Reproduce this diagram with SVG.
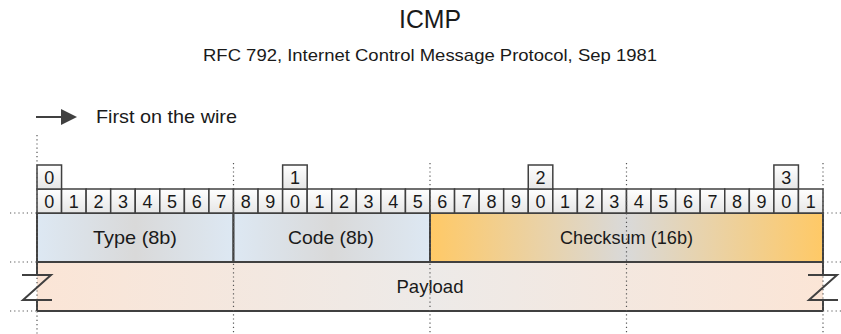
<svg xmlns="http://www.w3.org/2000/svg" width="841" height="334" viewBox="0 0 841 334">
<defs>
<linearGradient id="gCell" x1="0" y1="0" x2="0" y2="1">
<stop offset="0" stop-color="#ffffff"/><stop offset="1" stop-color="#e6e6e6"/>
</linearGradient>
<linearGradient id="gBlue" x1="0" y1="0" x2="1" y2="0">
<stop offset="0" stop-color="#dde8f3"/><stop offset="0.5" stop-color="#d9d9d9"/><stop offset="1" stop-color="#dde8f3"/>
</linearGradient>
<linearGradient id="gOrange" x1="0" y1="0" x2="1" y2="0">
<stop offset="0" stop-color="#ffc966"/><stop offset="0.5" stop-color="#d9d9d9"/><stop offset="1" stop-color="#ffc966"/>
</linearGradient>
<linearGradient id="gPeach" x1="0" y1="0" x2="1" y2="0">
<stop offset="0" stop-color="#fbe5d6"/><stop offset="0.5" stop-color="#edeae8"/><stop offset="1" stop-color="#fbe5d6"/>
</linearGradient>
<marker id="arr" viewBox="0 0 10 10" refX="0" refY="5" markerWidth="20" markerHeight="16" markerUnits="userSpaceOnUse" orient="auto">
<path d="M0,0 L10,5 L0,10 Z" fill="#404040"/>
</marker>
<style>
text{font-family:"Liberation Sans",Arial,sans-serif;fill:#1a1a1a}
.t{font-size:25px;text-anchor:middle}
.st{font-size:17px;text-anchor:middle}
.lg{font-size:18.5px}
.d{font-size:18px;text-anchor:middle}
.f{font-size:18.5px;text-anchor:middle}
.cell{fill:url(#gCell);stroke:#404040;stroke-width:1.5}
.fld{stroke:#404040;stroke-width:2}
.dot{stroke:#555;stroke-width:1.2;stroke-dasharray:1.2 3;fill:none}
.brk{stroke:#404040;stroke-width:2;fill:none}
</style>
</defs>

<g id="title">
<text class="t" x="430" y="28" textLength="62" lengthAdjust="spacingAndGlyphs">ICMP</text>
<text class="st" x="430" y="61" textLength="454" lengthAdjust="spacingAndGlyphs">RFC 792, Internet Control Message Protocol, Sep 1981</text>
</g>

<g id="legend">
<line x1="36" y1="117" x2="61" y2="117" stroke="#404040" stroke-width="2" marker-end="url(#arr)"/>
<text class="lg" x="96" y="123" textLength="141" lengthAdjust="spacingAndGlyphs">First on the wire</text>
</g>

<g id="fields">
<g id="type"><rect class="fld" x="37" y="213" width="196.5" height="49" fill="url(#gBlue)"/>
<text class="f" x="135" y="244" textLength="84" lengthAdjust="spacingAndGlyphs">Type (8b)</text></g>
<g id="code"><rect class="fld" x="233.5" y="213" width="196.5" height="49" fill="url(#gBlue)"/>
<text class="f" x="331" y="244" textLength="86" lengthAdjust="spacingAndGlyphs">Code (8b)</text></g>
<g id="checksum"><rect class="fld" x="430" y="213" width="393" height="49" fill="url(#gOrange)"/>
<text class="f" x="626.5" y="244" textLength="133" lengthAdjust="spacingAndGlyphs">Checksum (16b)</text></g>
<g id="payload"><rect x="37" y="262" width="786" height="49" fill="url(#gPeach)"/>
<path class="fld" fill="none" d="M37,262 H823 M37,311 H823 M37,262 V275 M37,300 V311 M823,262 V275 M823,300 V311"/>
<text class="f" x="430" y="293" textLength="67" lengthAdjust="spacingAndGlyphs">Payload</text></g>
</g>

<g id="bits">
<rect class="cell" x="37" y="189" width="24.56" height="24"/><text class="d" x="49.3" y="207.5">0</text>
<rect class="cell" x="61.56" y="189" width="24.56" height="24"/><text class="d" x="73.8" y="207.5">1</text>
<rect class="cell" x="86.13" y="189" width="24.56" height="24"/><text class="d" x="98.4" y="207.5">2</text>
<rect class="cell" x="110.69" y="189" width="24.56" height="24"/><text class="d" x="123" y="207.5">3</text>
<rect class="cell" x="135.25" y="189" width="24.56" height="24"/><text class="d" x="147.5" y="207.5">4</text>
<rect class="cell" x="159.81" y="189" width="24.56" height="24"/><text class="d" x="172.1" y="207.5">5</text>
<rect class="cell" x="184.38" y="189" width="24.56" height="24"/><text class="d" x="196.7" y="207.5">6</text>
<rect class="cell" x="208.94" y="189" width="24.56" height="24"/><text class="d" x="221.2" y="207.5">7</text>
<rect class="cell" x="233.5" y="189" width="24.56" height="24"/><text class="d" x="245.8" y="207.5">8</text>
<rect class="cell" x="258.06" y="189" width="24.56" height="24"/><text class="d" x="270.3" y="207.5">9</text>
<rect class="cell" x="282.63" y="189" width="24.56" height="24"/><text class="d" x="294.9" y="207.5">0</text>
<rect class="cell" x="307.19" y="189" width="24.56" height="24"/><text class="d" x="319.5" y="207.5">1</text>
<rect class="cell" x="331.75" y="189" width="24.56" height="24"/><text class="d" x="344" y="207.5">2</text>
<rect class="cell" x="356.31" y="189" width="24.56" height="24"/><text class="d" x="368.6" y="207.5">3</text>
<rect class="cell" x="380.88" y="189" width="24.56" height="24"/><text class="d" x="393.2" y="207.5">4</text>
<rect class="cell" x="405.44" y="189" width="24.56" height="24"/><text class="d" x="417.7" y="207.5">5</text>
<rect class="cell" x="430" y="189" width="24.56" height="24"/><text class="d" x="442.3" y="207.5">6</text>
<rect class="cell" x="454.56" y="189" width="24.56" height="24"/><text class="d" x="466.8" y="207.5">7</text>
<rect class="cell" x="479.13" y="189" width="24.56" height="24"/><text class="d" x="491.4" y="207.5">8</text>
<rect class="cell" x="503.69" y="189" width="24.56" height="24"/><text class="d" x="516" y="207.5">9</text>
<rect class="cell" x="528.25" y="189" width="24.56" height="24"/><text class="d" x="540.5" y="207.5">0</text>
<rect class="cell" x="552.81" y="189" width="24.56" height="24"/><text class="d" x="565.1" y="207.5">1</text>
<rect class="cell" x="577.38" y="189" width="24.56" height="24"/><text class="d" x="589.7" y="207.5">2</text>
<rect class="cell" x="601.94" y="189" width="24.56" height="24"/><text class="d" x="614.2" y="207.5">3</text>
<rect class="cell" x="626.5" y="189" width="24.56" height="24"/><text class="d" x="638.8" y="207.5">4</text>
<rect class="cell" x="651.06" y="189" width="24.56" height="24"/><text class="d" x="663.3" y="207.5">5</text>
<rect class="cell" x="675.63" y="189" width="24.56" height="24"/><text class="d" x="687.9" y="207.5">6</text>
<rect class="cell" x="700.19" y="189" width="24.56" height="24"/><text class="d" x="712.5" y="207.5">7</text>
<rect class="cell" x="724.75" y="189" width="24.56" height="24"/><text class="d" x="737" y="207.5">8</text>
<rect class="cell" x="749.31" y="189" width="24.56" height="24"/><text class="d" x="761.6" y="207.5">9</text>
<rect class="cell" x="773.88" y="189" width="24.56" height="24"/><text class="d" x="786.2" y="207.5">0</text>
<rect class="cell" x="798.44" y="189" width="24.56" height="24"/><text class="d" x="810.7" y="207.5">1</text>
</g>

<g id="words">
<rect class="cell" x="37" y="165" width="24.56" height="24"/><text class="d" x="49.3" y="183.5">0</text>
<rect class="cell" x="282.63" y="165" width="24.56" height="24"/><text class="d" x="294.9" y="183.5">1</text>
<rect class="cell" x="528.25" y="165" width="24.56" height="24"/><text class="d" x="540.5" y="183.5">2</text>
<rect class="cell" x="773.88" y="165" width="24.56" height="24"/><text class="d" x="786.2" y="183.5">3</text>
</g>

<g id="connectors">
<path class="dot" d="M37,135 V334 M233.5,163 V334 M430,163 V334 M626.5,163 V334 M823,163 V334"/>
<path class="dot" d="M10,213 H37 M823,213 H841 M10,262 H37 M823,262 H841 M10,311 H37 M823,311 H841"/>
<path class="brk" d="M22,275 H51 L23,300 H52 M808,275 H837 L809,300 H838"/>
</g>
</svg>
